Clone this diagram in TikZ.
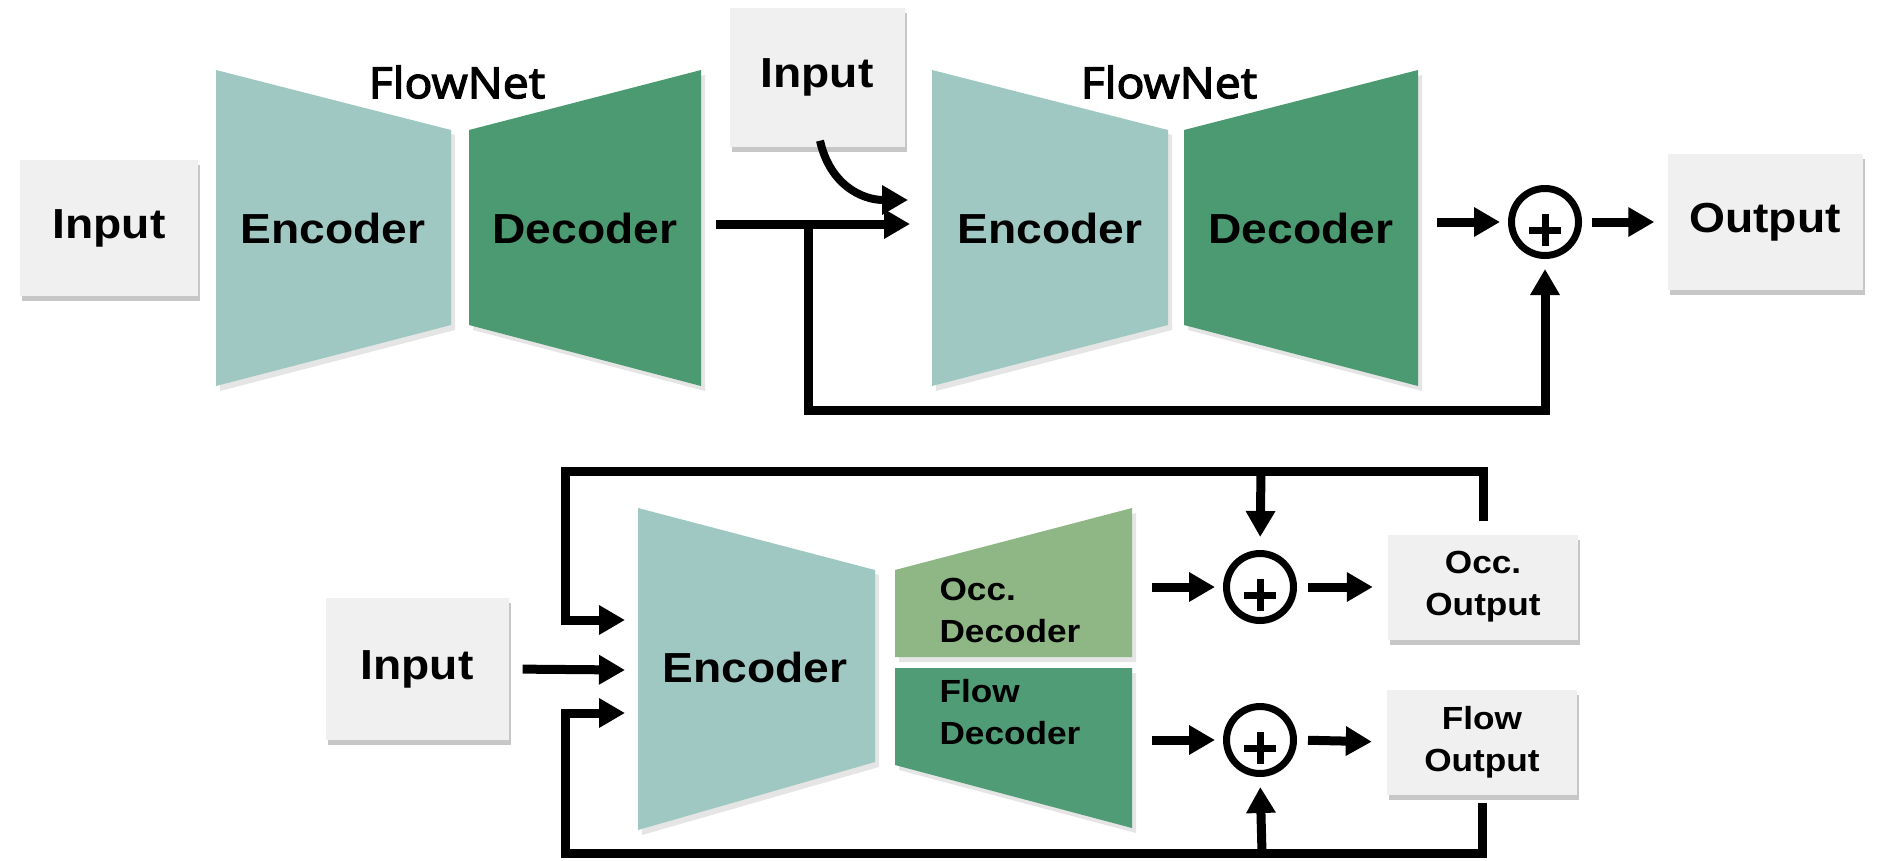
\documentclass[tikz,border=0pt]{standalone}
\usepackage{fontspec}
\setmainfont{Liberation Sans}[FakeStretch=1.1]
\newfontfamily\netfont{Open Sans}[FakeStretch=1.08, FakeBold=3]
\usetikzlibrary{arrows.meta,calc,shadows}

\definecolor{encfill}{HTML}{A0C8C2}
\definecolor{decfill}{HTML}{4C9A72}
\definecolor{occfill}{HTML}{8FB685}
\definecolor{flwfill}{HTML}{4F9C76}
\definecolor{boxfill}{HTML}{F0F0F0}

\begin{document}
\begin{tikzpicture}[x=1pt,y=-1pt,
  big/.style={font=\bfseries\fontsize{42}{50}\selectfont},
  small/.style={font=\bfseries\fontsize{32}{42}\selectfont, align=center},
  netlabel/.style={font=\netfont\fontsize{43}{50}\selectfont},
  iobox/.style={fill=boxfill, inner sep=0pt,
    drop shadow={shadow xshift=2pt, shadow yshift=-5pt, fill=black, opacity=0.22}},
  sum/.style={circle, draw, line width=7pt, minimum size=67pt, inner sep=0pt, fill=white},
  plus/.style={line width=7pt},
  arr/.style={line width=9pt, line join=miter, -{Triangle[length=26pt,width=28pt]}},
  shade/.style={fill=black, opacity=0.10}
]
\useasboundingbox (0,0) rectangle (1878,860);

% ---------- upper chain: two stacked FlowNets ----------
\coordinate (e1a) at (216,70);  \coordinate (e1b) at (451,130);
\coordinate (e1c) at (451,325); \coordinate (e1d) at (216,386);
\coordinate (d1a) at (469,130); \coordinate (d1b) at (701,70);
\coordinate (d1c) at (701,386); \coordinate (d1d) at (469,325);
\coordinate (e2a) at (932,70);  \coordinate (e2b) at (1168,130);
\coordinate (e2c) at (1168,325);\coordinate (e2d) at (932,386);
\coordinate (d2a) at (1184,130);\coordinate (d2b) at (1418,70);
\coordinate (d2c) at (1418,386);\coordinate (d2d) at (1184,325);

\foreach \p in {e1,d1,e2,d2}{
  \fill[shade, transform canvas={xshift=4pt,yshift=-5pt}] (\p a) -- (\p b) -- (\p c) -- (\p d) -- cycle;
}
\fill[encfill] (e1a) -- (e1b) -- (e1c) -- (e1d) -- cycle;
\fill[decfill] (d1a) -- (d1b) -- (d1c) -- (d1d) -- cycle;
\fill[encfill] (e2a) -- (e2b) -- (e2c) -- (e2d) -- cycle;
\fill[decfill] (d2a) -- (d2b) -- (d2c) -- (d2d) -- cycle;

\node[big] (enc1) at (333,228) {Encoder};
\node[big] (dec1) at (585,228) {Decoder};
\node[big] (enc2) at (1050,228) {Encoder};
\node[big] (dec2) at (1301,228) {Decoder};
\node[netlabel] (net1) at (457,82) {FlowNet};
\node[netlabel] (net2) at (1169,82) {FlowNet};

\node[iobox, big, minimum width=178pt, minimum height=136pt] (in1) at (109,228) {Input};
\node[iobox, big, minimum width=175pt, minimum height=139pt] (in2) at (817,77) {Input};
\node[iobox, big, minimum width=195pt, minimum height=136pt] (out1) at (1765,222) {Output};
\node[sum] (s1) at (1545,222) {};
\draw[plus] ($(s1)+(-16,8)$) -- ($(s1)+(16,8)$) ($(s1)+(0,-8)$) -- ($(s1)+(0,24)$);

\coordinate (d1out) at (716,224);
\coordinate (e2in)  at (910,224);
\coordinate (e2in2) at (908,200);
\coordinate (split) at (808,224);
\coordinate (skip)  at (808,410);
\coordinate (d2out) at (1437,222);

\draw[arr] (d1out) -- (e2in);
\draw[arr, line width=8pt] ([xshift=3pt,yshift=6pt]in2.south) .. controls (830,185) and (862,200) .. (e2in2);
\draw[arr, shorten >=10pt] (split) -- (skip) -| (s1.south);
\draw[arr, shorten >=8pt] (d2out) -- (s1.west);
\draw[arr, shorten <=10pt, shorten >=13pt] (s1.east) -- (out1.west);

% ---------- lower network: shared encoder, two decoders ----------
\coordinate (e3a) at (638,508); \coordinate (e3b) at (875,570);
\coordinate (e3c) at (875,762); \coordinate (e3d) at (638,830);
\coordinate (oda) at (895,570); \coordinate (odb) at (1132,508);
\coordinate (odc) at (1132,657);\coordinate (odd) at (895,657);
\coordinate (fda) at (895,668); \coordinate (fdb) at (1132,668);
\coordinate (fdc) at (1132,828);\coordinate (fdd) at (895,765);

\foreach \p in {e3,od,fd}{
  \fill[shade, transform canvas={xshift=4pt,yshift=-5pt}] (\p a) -- (\p b) -- (\p c) -- (\p d) -- cycle;
}
\fill[encfill] (e3a) -- (e3b) -- (e3c) -- (e3d) -- cycle;
\fill[occfill] (oda) -- (odb) -- (odc) -- (odd) -- cycle;
\fill[flwfill] (fda) -- (fdb) -- (fdc) -- (fdd) -- cycle;

\node[big] (enc3) at (755,667) {Encoder};
\node[small, align=left, anchor=west] (occdec) at (936,610) {Occ.\\Decoder};
\node[small, align=left, anchor=west] (flwdec) at (936,712) {Flow\\Decoder};

\node[iobox, big, minimum width=183pt, minimum height=142pt] (in3) at (417,669) {Input};
\node[iobox, small, minimum width=190pt, minimum height=105pt] (occout) at (1483,587) {Occ.\\Output};
\node[iobox, small, minimum width=190pt, minimum height=105pt] (flwout) at (1482,742) {Flow\\Output};

\node[sum] (s2) at (1260,587) {};
\node[sum] (s3) at (1260,740) {};
\draw[plus] ($(s2)+(-16,8)$) -- ($(s2)+(16,8)$) ($(s2)+(0,-8)$) -- ($(s2)+(0,24)$);
\draw[plus] ($(s3)+(-16,8)$) -- ($(s3)+(16,8)$) ($(s3)+(0,-8)$) -- ($(s3)+(0,24)$);

\coordinate (e3up)  at (625,620);
\coordinate (e3mid) at (625,670);
\coordinate (e3low) at (625,713);
\coordinate (loopT) at (565,471);
\coordinate (loopB) at (565,853);
\coordinate (tapT)  at (1261,471);
\coordinate (tapB)  at (1262,853);
\coordinate (odout) at (1152,587);
\coordinate (fdout) at (1152,740);

\draw[arr, shorten <=14pt] (in3.east) -- (e3mid);
\draw[arr, shorten <=13pt] (occout.north) |- (loopT) |- (e3up);
\draw[arr, shorten <=8pt] (flwout.south) |- (loopB) |- (e3low);
\draw[arr, shorten >=13pt] (tapT) -- (s2.north);
\draw[arr, shorten >=10pt] (tapB) -- (s3.south);
\draw[arr, shorten >=8pt] (odout) -- (s2.west);
\draw[arr, shorten >=8pt] (fdout) -- (s3.west);
\draw[arr, shorten <=11pt, shorten >=15pt] (s2.east) -- (occout.west);
\draw[arr, shorten <=11pt, shorten >=15pt] (s3.east) -- (flwout.west);
\end{tikzpicture}
\end{document}
